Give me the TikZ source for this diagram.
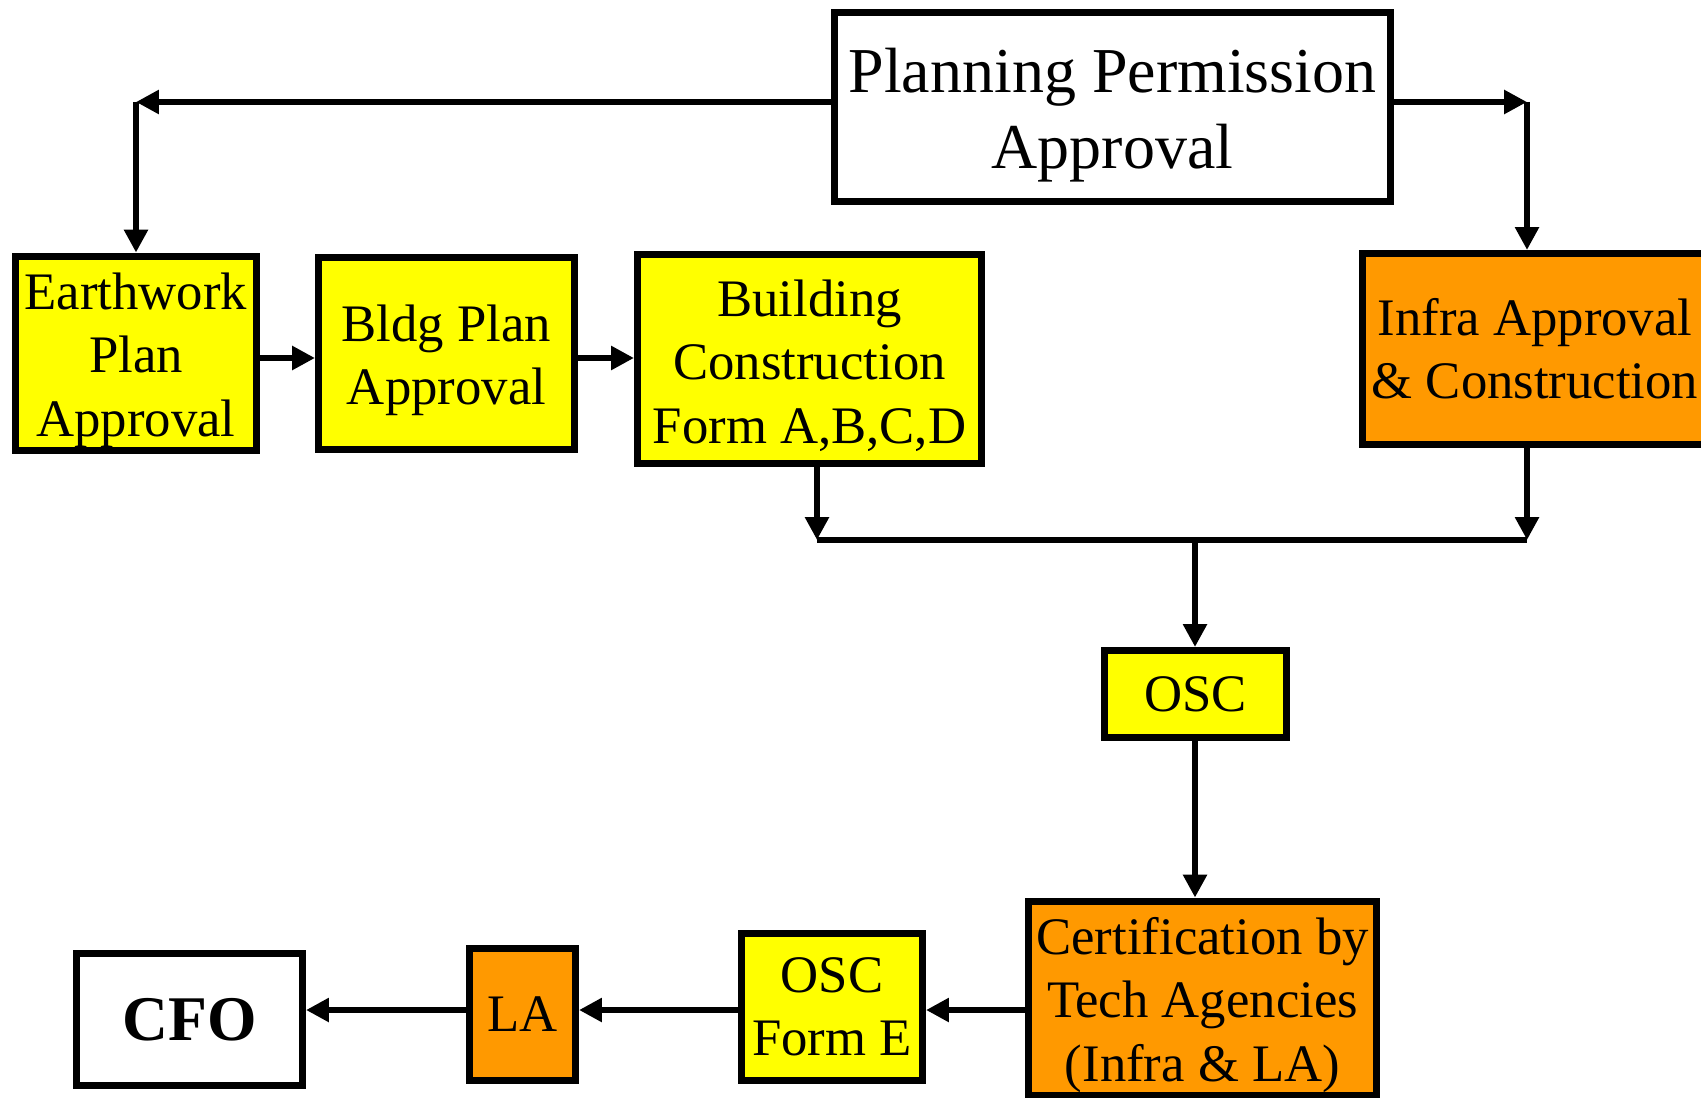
\documentclass[tikz,border=0pt]{standalone}
\usepackage{fontspec}
\setmainfont{Liberation Serif}
\usepackage{xcolor}
\usepackage{tikz}
\usetikzlibrary{positioning,arrows.meta}
\definecolor{boxyellow}{HTML}{FFFF00}
\definecolor{boxorange}{HTML}{FF9900}
\newcommand{\topstrut}{\rule{0pt}{0.95em}}
\tikzset{
	stage/.style={draw=black, line width=2pt, align=center, inner sep=1pt, font=\fontsize{15pt}{18pt}\selectfont},
	yellowstage/.style={stage, fill=boxyellow},
	orangestage/.style={stage, fill=boxorange},
	bigstage/.style={stage, fill=white, font=\fontsize{18.2pt}{21.4pt}\selectfont},
	flowarrow/.style={draw=black, line width=1.8pt, -{Triangle[length=6.5pt,width=6.5pt]}},
	busline/.style={draw=black, line width=1.8pt}
}

\begin{document}
\begin{tikzpicture}
	\useasboundingbox (0,0) rectangle (17.01,-10.97);

	\node[bigstage, minimum width=5.56cm, minimum height=1.89cm] (plan) at (11.125,-1.07) {\topstrut Planning Permission\\Approval};

	\node[yellowstage, minimum width=2.41cm, minimum height=1.92cm] (earth) at (1.36,-3.535) {\topstrut Earthwork\\Plan\\Approval};
	\node[yellowstage, minimum width=2.56cm, minimum height=1.92cm, right=0.55cm of earth] (bldg) {\topstrut Bldg Plan\\Approval};
	\node[yellowstage, minimum width=3.44cm, minimum height=2.09cm] (build) at (8.095,-3.59) {\topstrut Building\\Construction\\Form A,B,C,D};
	\node[orangestage, minimum width=3.45cm, minimum height=1.91cm] (infra) at (15.35,-3.49) {Infra Approval\\\& Construction};

	\node[yellowstage, minimum width=1.82cm, minimum height=0.87cm] (osc) at (11.955,-6.94) {OSC};
	\node[orangestage, minimum width=3.48cm, minimum height=1.90cm] (cert) at (12.025,-9.985) {\topstrut Certification by\\Tech Agencies\\(Infra \& LA)};
	\node[yellowstage, minimum width=1.81cm, minimum height=1.47cm] (osce) at (8.32,-10.07) {OSC\\Form E};
	\node[orangestage, minimum width=1.06cm, minimum height=1.32cm] (la) at (5.225,-10.145) {LA};
	\node[bigstage, minimum width=2.26cm, minimum height=1.32cm, font=\fontsize{18.1pt}{21.4pt}\selectfont\bfseries] (cfo) at (1.895,-10.195) {CFO};

	\coordinate (tl) at (earth |- 0,-1.02);
	\coordinate (tr) at (15.27,-1.02);
	\coordinate (mid) at (0,-3.58);
	\coordinate (jl) at (8.17,-5.40);
	\coordinate (jr) at (15.27,-5.40);
	\coordinate (jm) at (11.95,-5.40);
	\coordinate (row) at (0,-10.10);

	\draw[flowarrow] (plan.west |- tl) -- (tl);
	\draw[flowarrow] (tl) -- (earth);
	\draw[flowarrow] (plan.east |- tr) -- (tr);
	\draw[flowarrow] (tr) -- (tr |- infra.north);

	\draw[flowarrow] (earth.east |- mid) -- (bldg.west |- mid);
	\draw[flowarrow] (bldg.east |- mid) -- (build.west |- mid);

	\draw[flowarrow] (build.south -| jl) -- (jl);
	\draw[flowarrow] (infra.south -| jr) -- (jr);
	\draw[busline] (jl) -- (jr);
	\draw[flowarrow] (jm) -- (jm |- osc.north);
	\draw[flowarrow] (osc.south -| jm) -- (jm |- cert.north);

	\draw[flowarrow] (cert.west |- row) -- (osce.east |- row);
	\draw[flowarrow] (osce.west |- row) -- (la.east |- row);
	\draw[flowarrow] (la.west |- row) -- (cfo.east |- row);
\end{tikzpicture}
\end{document}
